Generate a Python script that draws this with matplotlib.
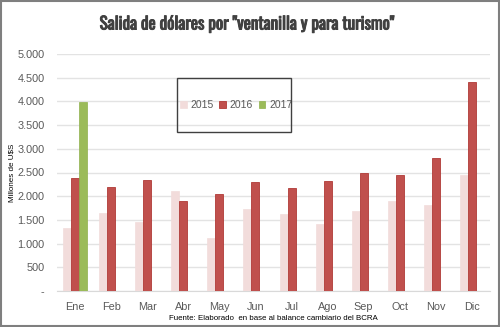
import matplotlib
matplotlib.use("Agg")
import matplotlib.pyplot as plt
import matplotlib.patheffects as pe
import numpy as np
from matplotlib.ticker import FuncFormatter

months = ["Ene", "Feb", "Mar", "Abr", "May", "Jun", "Jul", "Ago", "Sep", "Oct", "Nov", "Dic"]
s2015 = [1320, 1650, 1455, 2110, 1120, 1740, 1620, 1420, 1690, 1890, 1810, 2450]
s2016 = [2380, 2200, 2340, 1900, 2050, 2300, 2175, 2320, 2480, 2440, 2810, 4410]
s2017 = [3980]
years = ["2015", "2016", "2017"]
yticks = [0, 500, 1000, 1500, 2000, 2500, 3000, 3500, 4000, 4500, 5000]

plt.rcParams["font.family"] = ["Liberation Sans", "DejaVu Sans"]

fig = plt.figure(figsize=(5.0, 3.27), dpi=100)
ax = fig.add_axes([57/500, 1-291/327, 433/500, 237/327])

x = np.arange(len(months))
w = 0.222
ax.bar(x - w, s2015, w, color="#f2dcdb", edgecolor="#f2dcdb", linewidth=0.5, label=years[0], zorder=3)
ax.bar(x, s2016, w, color="#c0504d", edgecolor="#b03a37", linewidth=0.6, label=years[1], zorder=3)
ax.bar(x[:len(s2017)] + w, s2017, w, color="#9bbb59", edgecolor="#8fb04c", linewidth=0.5, label=years[2], zorder=3)

ax.set_xlim(-0.5, len(months) - 0.5)
ax.set_ylim(0, 5000)
ax.set_yticks(yticks)
ax.yaxis.set_major_formatter(FuncFormatter(lambda v, p: "-" if v == 0 else f"{int(v):,}".replace(",", ".")))
ax.set_xticks(x)
ax.set_xticklabels(months)
ax.grid(axis="y", color="#e3e3e3", linewidth=1, zorder=0)
for s in ["top", "right", "left"]:
    ax.spines[s].set_visible(False)
ax.spines["bottom"].set_color("#d9d9d9")
ax.tick_params(axis="both", length=0, labelsize=7.8, labelcolor="#595959")
ax.tick_params(axis="y", pad=9)
ax.tick_params(axis="x", pad=8)
fig.text(12/500, 1-173/327, "Millones de U$S", rotation=90, ha="center", va="center",
         fontsize=5.8, color="#000000")

fig.text(247/500, 1-24/327, 'Salida de dólares por "ventanilla y para turismo"',
         ha="center", va="center", fontsize=12.3, fontweight="bold",
         family=["Oswald", "Archivo Narrow", "DejaVu Sans"], color="#404040",
         path_effects=[pe.withStroke(linewidth=0.7, foreground="#404040")])
fig.text(273/500, 1-319/327, "Fuente: Elaborado  en base al balance cambiario del BCRA",
         ha="center", va="center", fontsize=5.7, color="#000000")

leg = ax.legend(loc="center", bbox_to_anchor=((236-57)/433, (291-105)/237), ncol=3,
                frameon=False, fontsize=7.5, handlelength=0.65, handleheight=0.65,
                columnspacing=0.55, handletextpad=0.35)
for t in leg.get_texts():
    t.set_color("#595959")

# legend box (drawn separately to match its proportions)
fig.patches.append(plt.Rectangle((177/500, 1-132/327), 114/500, 54/327, transform=fig.transFigure,
                                 fill=False, edgecolor="#404040", linewidth=1.0))

# outer border
fig.patches.append(plt.Rectangle((0.002, 0.003), 0.996, 0.994, transform=fig.transFigure,
                                 fill=False, edgecolor="#7f7f7f", linewidth=1.5))
fig.savefig("out.png", dpi=100)
